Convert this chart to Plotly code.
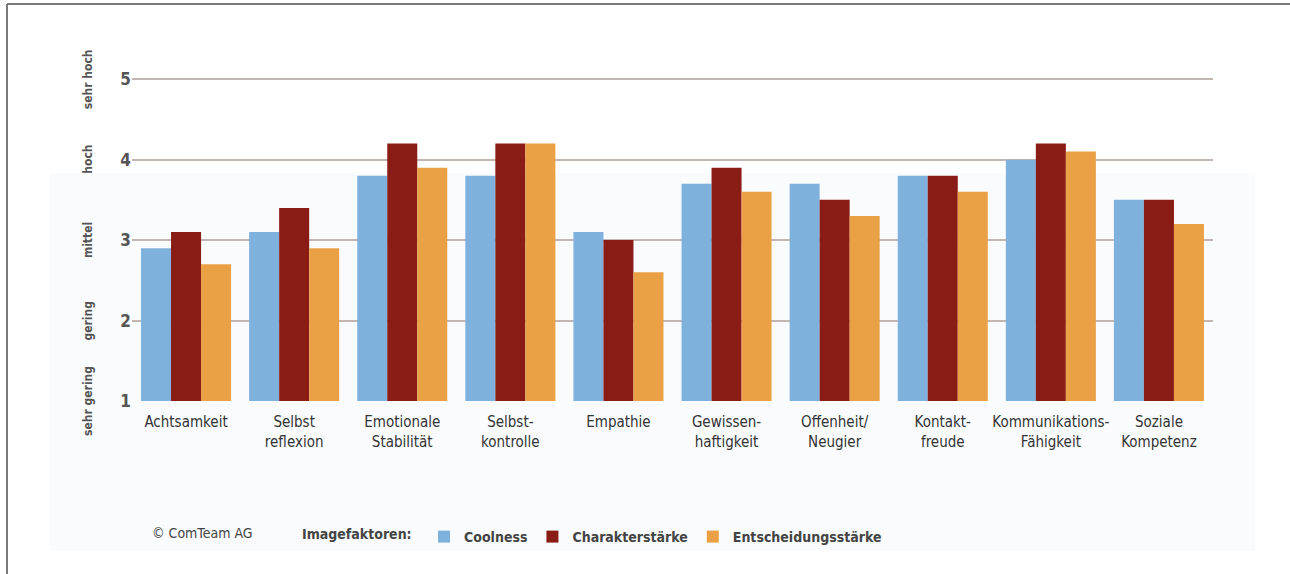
import plotly.graph_objects as go

categories = [
    "Achtsamkeit", "Selbst<br>reflexion", "Emotionale<br>Stabilität", "Selbst-<br>kontrolle",
    "Empathie", "Gewissen-<br>haftigkeit", "Offenheit/<br>Neugier", "Kontakt-<br>freude",
    "Kommunikations-<br>Fähigkeit", "Soziale<br>Kompetenz",
]
coolness = [2.9, 3.1, 3.8, 3.8, 3.1, 3.7, 3.7, 3.8, 4.0, 3.5]
charakterstaerke = [3.1, 3.4, 4.2, 4.2, 3.0, 3.9, 3.5, 3.8, 4.2, 3.5]
entscheidungsstaerke = [2.7, 2.9, 3.9, 4.2, 2.6, 3.6, 3.3, 3.6, 4.1, 3.2]
series_names = ["Coolness", "Charakterstärke", "Entscheidungsstärke"]
series_colors = ["#7fb1dd", "#8a1c16", "#eaa045"]
tick_vals = [1, 2, 3, 4, 5]
scale_labels = ["sehr gering", "gering", "mittel", "hoch", "sehr hoch"]

FONT = "Liberation Sans Narrow, Arial Narrow, DejaVu Sans Condensed, DejaVu Sans, sans-serif"
BASE = 1

fig = go.Figure()
for name, vals, col in zip(series_names, [coolness, charakterstaerke, entscheidungsstaerke], series_colors):
    fig.add_trace(go.Bar(
        x=categories, y=[v - BASE for v in vals], base=BASE, name=name,
        marker=dict(color=col, line=dict(width=0)),
    ))

W, H = 1290, 574
L, R, T, B = 132, 77, 47, 173
pw, ph = W - L - R, H - T - B

def px_x(px):
    return (px - L) / pw

def px_y(py):
    return (H - B - py) / ph

shapes = [
    # faint tinted panel behind the lower part of the chart
    dict(type="rect", xref="paper", yref="paper", layer="below",
         x0=px_x(50), x1=px_x(1255), y0=px_y(551), y1=px_y(173),
         fillcolor="#f9fbfd", line=dict(width=0)),
    # frame lines
    dict(type="line", xref="paper", yref="paper", x0=px_x(7), x1=px_x(7),
         y0=px_y(574), y1=px_y(4), line=dict(color="#7a7a7a", width=2)),
    dict(type="line", xref="paper", yref="paper", x0=px_x(7), x1=px_x(1290),
         y0=px_y(4), y1=px_y(4), line=dict(color="#7a7a7a", width=2)),
]

annotations = []
for v, lab in zip(tick_vals, scale_labels):
    annotations.append(dict(
        x=px_x(88), xref="paper", y=v, yref="y", text=lab, textangle=-90,
        showarrow=False, xanchor="center", yanchor="middle",
        font=dict(family=FONT, size=12, color="#555555", weight="bold"),
    ))
annotations.append(dict(
    x=px_x(150), xref="paper", y=px_y(533), yref="paper", text="© ComTeam AG",
    showarrow=False, xanchor="left", yanchor="middle",
    font=dict(family=FONT, size=14, color="#444444"),
))

fig.update_layout(
    width=W, height=H,
    margin=dict(l=L, r=R, t=T, b=B),
    paper_bgcolor="white", plot_bgcolor="rgba(0,0,0,0)",
    barmode="group", bargap=0.167, bargroupgap=0,
    shapes=shapes, annotations=annotations,
    showlegend=True,
    legend=dict(
        orientation="h", x=px_x(300), xanchor="left", y=px_y(537), yanchor="middle",
        title=dict(text="Imagefaktoren: ", font=dict(family=FONT, size=14, color="#444444", weight="bold")),
        font=dict(family=FONT, size=14, color="#444444", weight="bold"),
        bgcolor="rgba(0,0,0,0)", itemwidth=30, tracegroupgap=0,
    ),
    xaxis=dict(
        showgrid=False, showline=False, ticks="", ticklabelstandoff=10, tickangle=0,
        tickfont=dict(family=FONT, size=15, color="#333333"),
        fixedrange=True,
    ),
    yaxis=dict(
        range=[1, 5.4], tickvals=tick_vals, ticktext=[str(v) for v in tick_vals],
        showgrid=True, gridcolor="#c2b6b2", gridwidth=1.5, zeroline=False,
        showline=False, ticks="",
        tickfont=dict(family=FONT, size=17, color="#555555", weight="bold"),
    ),
)

fig.write_html("out.html")
